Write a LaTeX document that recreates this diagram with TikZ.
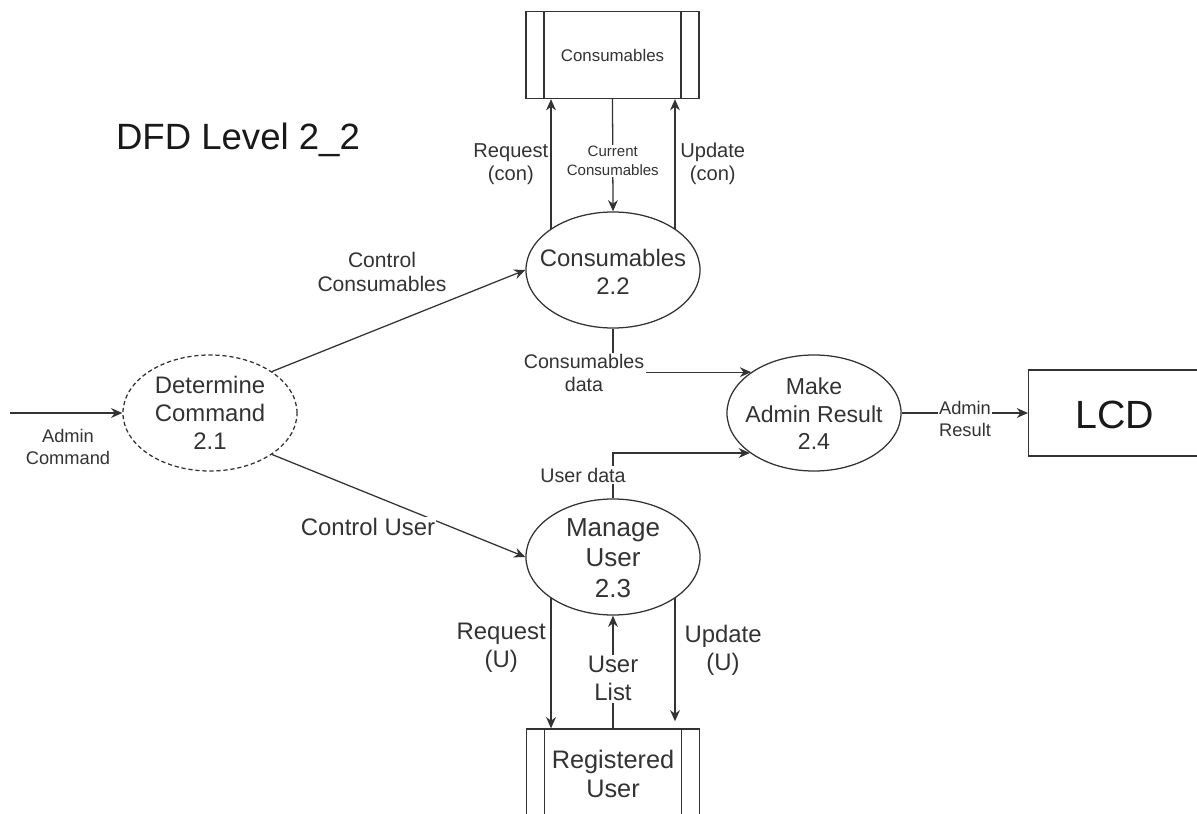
\documentclass[tikz,border=0pt]{standalone}
\usepackage{fontspec}
\setmainfont{Liberation Sans}
\usetikzlibrary{shapes,arrows.meta,calc}

\begin{document}
\begin{tikzpicture}[x=0.025cm, y=-0.025cm,
  color=black!80, line width=0.9pt,
  proc/.style={ellipse, draw, minimum width=4.35cm, minimum height=2.9cm, inner sep=0pt},
  proctext/.style={align=center, font={\fontsize{17pt}{20pt}\selectfont}},
  store/.style={draw, fill=white, align=center, minimum width=4.325cm, minimum height=2.175cm, inner sep=0pt,
    path picture={
      \draw ([xshift=0.45cm]path picture bounding box.north west) -- ([xshift=0.45cm]path picture bounding box.south west);
      \draw ([xshift=-0.45cm]path picture bounding box.north east) -- ([xshift=-0.45cm]path picture bounding box.south east);}},
  flow/.style={arrows={-{Stealth[width=7,length=8]}}},
  lbl/.style={align=center, fill=white, inner sep=1pt}
  ]
  \useasboundingbox (0,0) rectangle (1197,814);

  \node[text=black!90, font={\fontsize{26pt}{30pt}\selectfont}] (title) at (238,140) {DFD Level 2\_2};

  % stores and terminator
  \node[store, font={\fontsize{12pt}{14pt}\selectfont}] (cstore) at (612.5,55) {Consumables};
  \node[store, minimum height=2.25cm, font={\fontsize{18pt}{21pt}\selectfont}] (rstore) at (613,774) {Registered\\User};
  \node[draw, anchor=west, minimum width=5cm, minimum height=2.15cm, inner sep=0pt] (lcd) at (1028,413) {};
  \node[text=black!90, font={\fontsize{28pt}{32pt}\selectfont}] (lcdtext) at (1115,415) {LCD};

  % processes
  \node[proc, dash pattern=on 3pt off 2pt] (p21) at (210,413) {};
  \node[proctext] (p21text) at (p21) {Determine\\Command\\2.1};
  \node[proc] (p22) at (613,270) {};
  \node[proctext] (p22text) at (613,272) {Consumables\\2.2};
  \node[proc] (p23) at (613,557) {};
  \node[proctext, font={\fontsize{18.5pt}{21.5pt}\selectfont}] (p23text) at (613,558) {Manage\\User\\2.3};
  \node[proc] (p24) at (814,413) {};
  \node[proctext, font={\fontsize{16.4pt}{19.5pt}\selectfont}] (p24text) at (814,414) {Make\\Admin Result\\2.4};

  % admin command
  \coordinate (adminin) at (10,413);
  \draw[flow] (adminin) -- (p21.west);
  \node[lbl, font={\fontsize{13pt}{15pt}\selectfont}] (admincmd) at (68,447) {Admin\\Command};
  \draw[flow] (p21.north east) -- (p22.west);
  \node[lbl, font={\fontsize{15pt}{17.5pt}\selectfont}] (ctrlcon) at (382,272) {Control\\Consumables};
  \draw[flow] (p21.south east) -- (p23.west);
  \node[lbl, font={\fontsize{17pt}{20pt}\selectfont}] (ctrluser) at (368,527) {Control User};

  % consumables store
  \draw[flow] (p22.north west) -- (p22.north west |- cstore.south)
    node[midway, left, align=center, inner xsep=1.5pt, font={\fontsize{14.3pt}{16.5pt}\selectfont}] (reqcon) {Request\\(con)};
  \draw[flow] (p22.north east) -- (p22.north east |- cstore.south)
    node[midway, right, align=center, font={\fontsize{14.3pt}{16.5pt}\selectfont}] (updcon) {Update\\(con)};
  \draw[flow] (cstore.south) -- (p22.north)
    node[pos=0.55, lbl, font={\fontsize{10.7pt}{13pt}\selectfont}] (curcon) {Current\\Consumables};

  % results
  \draw[flow] (p22.south) |- (p24.147.6);
  \node[lbl, font={\fontsize{14pt}{16.5pt}\selectfont}] (condata) at (584,373) {Consumables\\data};
  \draw[flow] (p23.north) |- (p24.212.4);
  \node[lbl, font={\fontsize{14pt}{16.5pt}\selectfont}] (userdata) at (583,475) {User data};
  \draw[flow] (p24.east) -- (lcd.west);
  \node[lbl, font={\fontsize{13pt}{15pt}\selectfont}] (admres) at (965,419) {Admin\\Result};

  % registered user store
  \draw[flow] (p23.south west) -- (p23.south west |- rstore.north)
    node[pos=0.38, left, align=center, font={\fontsize{17pt}{20pt}\selectfont}] (requ) {Request\\(U)};
  \draw[flow, shorten >=5pt] (p23.south east) -- (p23.south east |- rstore.north)
    node[pos=0.4, right, xshift=3pt, align=center, font={\fontsize{17pt}{20pt}\selectfont}] (updu) {Update\\(U)};
  \draw[flow] (rstore.north) -- (p23.south)
    node[pos=0.44, lbl, font={\fontsize{17pt}{20pt}\selectfont}] (userlist) {User\\List};
\end{tikzpicture}
\end{document}
